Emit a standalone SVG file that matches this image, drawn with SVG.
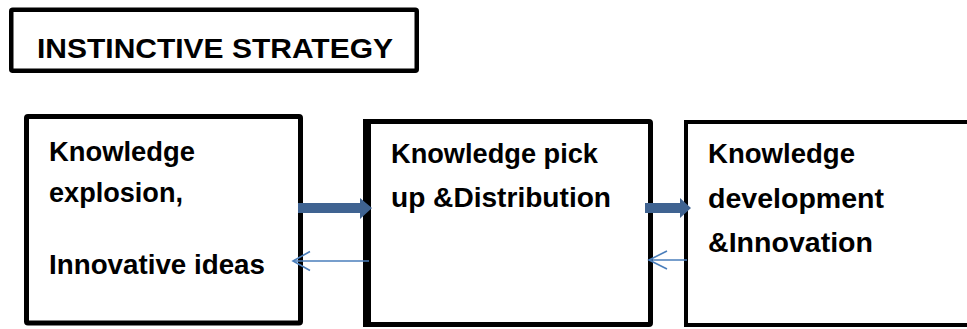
<svg xmlns="http://www.w3.org/2000/svg" width="967" height="329" viewBox="0 0 967 329">
  <style>
    .box { fill: #ffffff; stroke: #000000; }
    .lbl { font-family: "Liberation Sans", Arial, sans-serif; font-weight: bold; font-size: 28px; fill: #000000; }
    .thick { fill: #3F6391; }
    .thin { fill: none; stroke: #4A7EBB; stroke-width: 1.6; }
  </style>

  <!-- title -->
  <g id="title">
    <rect class="box" x="11.25" y="9.75" width="405.5" height="61" rx="1.5" stroke-width="4.5"/>
    <text class="lbl" x="37" y="58" font-size="31" textLength="356" lengthAdjust="spacingAndGlyphs">INSTINCTIVE STRATEGY</text>
  </g>

  <!-- node 1 -->
  <g id="node-explosion">
    <rect class="box" x="26.5" y="116.5" width="274" height="206.5" rx="1.5" stroke-width="5"/>
    <text class="lbl" x="49" y="161" textLength="146" lengthAdjust="spacingAndGlyphs">Knowledge</text>
    <text class="lbl" x="49" y="202" textLength="134" lengthAdjust="spacingAndGlyphs">explosion,</text>
    <text class="lbl" x="49" y="274" textLength="216" lengthAdjust="spacingAndGlyphs">Innovative ideas</text>
  </g>

  <!-- node 2 -->
  <g id="node-distribution">
    <rect class="box" x="365.5" y="121.5" width="285" height="203" rx="1.5" stroke-width="5"/>
    <rect x="363" y="119" width="8" height="208" fill="#000000"/>
    <text class="lbl" x="391" y="163" textLength="207" lengthAdjust="spacingAndGlyphs">Knowledge pick</text>
    <text class="lbl" x="391" y="207" textLength="220" lengthAdjust="spacingAndGlyphs">up &amp;Distribution</text>
  </g>

  <!-- node 3 -->
  <g id="node-innovation">
    <rect class="box" x="686" y="122" width="300" height="203" stroke-width="4"/>
    <text class="lbl" x="708" y="163" textLength="147" lengthAdjust="spacingAndGlyphs">Knowledge</text>
    <text class="lbl" x="708" y="208" textLength="176" lengthAdjust="spacingAndGlyphs">development</text>
    <text class="lbl" x="708" y="252" textLength="165" lengthAdjust="spacingAndGlyphs">&amp;Innovation</text>
  </g>

  <!-- connectors -->
  <g id="connectors">
    <polygon class="thick" points="298,203 360,203 360,198 372,208 360,219 360,213 298,213"/>
    <polygon class="thick" points="645,203 680,203 680,198 691,208 680,218 680,213 645,213"/>
    <line class="thin" x1="369" y1="261" x2="293" y2="261"/>
    <polyline class="thin" points="310,251.5 293,261 310,270.5"/>
    <line class="thin" x1="687" y1="260" x2="649" y2="260"/>
    <polyline class="thin" points="667,251 649,260 667,269"/>
  </g>
</svg>
